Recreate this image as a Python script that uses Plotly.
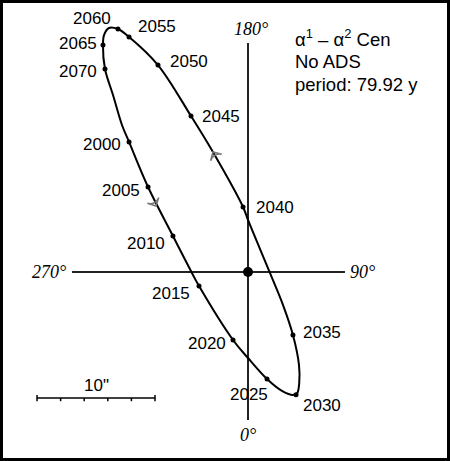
import plotly.graph_objects as go

# ---------------- data (arcseconds, relative to primary) ----------------
years = [2000, 2005, 2010, 2015, 2020, 2025, 2030, 2035,
         2040, 2045, 2050, 2055, 2060, 2065, 2070]
year_x = [-10.08, -8.47, -6.36, -4.15, -1.27, 1.61, 4.07, 3.81,
          -0.42, -4.83, -7.63, -10.08, -11.02, -12.29, -12.12]
year_y = [11.02, 7.20, 3.05, -1.19, -5.76, -9.07, -10.40, -5.34,
          5.51, 13.22, 17.54, 19.92, 20.59, 19.24, 17.20]

# apparent orbit (closed loop)
orbit_x = [-10.08, -8.47, -6.36, -4.75, -4.15, -1.27, 0.00, 1.61, 2.88, 3.73, 4.15,
           4.34, 4.32, 3.81, 2.97, 1.86, 0.00, -0.42, -2.97, -4.83, -7.63,
           -10.08, -11.02, -11.78, -12.20, -12.29, -12.12, -11.44, -10.68, -10.08]
orbit_y = [11.02, 7.20, 3.05, -0.08, -1.19, -5.76, -7.29, -9.07, -10.08, -10.42, -10.30,
           -9.41, -7.88, -5.34, -2.80, -0.08, 4.41, 5.51, 10.17, 13.22, 17.54,
           19.92, 20.59, 20.68, 20.08, 19.24, 17.20, 15.00, 12.46, 11.02]

# direction-of-motion arrows on the orbit
arrow_x = [-2.97, -7.80]
arrow_y = [10.17, 5.59]
arrow_angle = [-30, 153]

# position-angle cross (extents, arcsec)
cross_y_extent = [-12.54, 19.41]
cross_x_extent = [-14.92, 8.22]
cross_labels = ["180°", "270°", "90°", "0°"]

# scale bar: 10 arcsec, ticks every 2"
scale_x0 = -17.88
scale_len = 10
scale_y = -10.68
scale_label = '10"'

title_lines = ["α<sup>1</sup> – α<sup>2</sup> Cen", "No ADS", "period: 79.92 y"]

# label offsets (pixels: right, up) for each year
label_dx = [-27, -27, -27, -28, -26, -18, 26, 29, 32, 30, 31, 28, -26, -25, -27]
label_dy = [-3, -3, -7, -7, -4, -15, -11, 3, -1, 0, 4, 10, 11, 1, -2]

SANS = "Liberation Sans, Arial, sans-serif"
SERIF = "Liberation Serif, Times New Roman, serif"

fig = go.Figure()

# cross lines
fig.add_shape(type="line", x0=0, x1=0, y0=cross_y_extent[0], y1=cross_y_extent[1],
              line=dict(color="#222", width=2), layer="below")
fig.add_shape(type="line", x0=cross_x_extent[0], x1=cross_x_extent[1], y0=0, y1=0,
              line=dict(color="#222", width=2), layer="below")

# orbit
fig.add_trace(go.Scatter(x=orbit_x, y=orbit_y, mode="lines",
                         line=dict(color="black", width=2, shape="spline", smoothing=1.0),
                         hoverinfo="skip"))
# year dots
fig.add_trace(go.Scatter(x=year_x, y=year_y, mode="markers",
                         marker=dict(color="black", size=5), hoverinfo="skip"))
# primary star
fig.add_trace(go.Scatter(x=[0], y=[0], mode="markers",
                         marker=dict(color="black", size=10), hoverinfo="skip"))
# arrows
fig.add_trace(go.Scatter(x=arrow_x, y=arrow_y, mode="markers",
                         marker=dict(symbol="arrow-wide-open", size=9, angle=arrow_angle,
                                     color="#777", line=dict(width=1.5, color="#777")),
                         hoverinfo="skip"))

# scale bar
ticks = [scale_x0 + i * scale_len / 5 for i in range(6)]
fig.add_shape(type="line", x0=scale_x0, x1=scale_x0 + scale_len, y0=scale_y, y1=scale_y,
              line=dict(color="black", width=1.5))
for i, t in enumerate(ticks):
    big = i in (0, 5)
    fig.add_shape(type="line", x0=t, x1=t,
                  y0=scale_y - 0.27, y1=scale_y + (0.25 if big else 0),
                  line=dict(color="black", width=1.5))
fig.add_annotation(x=scale_x0 + scale_len / 2, y=scale_y, yshift=13, text=scale_label,
                   showarrow=False, font=dict(family=SANS, size=17, color="black"))

# year labels
for yr, x, y, dx, dy in zip(years, year_x, year_y, label_dx, label_dy):
    fig.add_annotation(x=x, y=y, xshift=dx, yshift=dy, text=str(yr), showarrow=False,
                       font=dict(family=SANS, size=17, color="black"))

# cross labels (italic serif)
serif_font = dict(family=SERIF, size=18, color="black", style="italic")
fig.add_annotation(x=0, y=cross_y_extent[1], xshift=3, yshift=14, text=cross_labels[0],
                   showarrow=False, font=serif_font)
fig.add_annotation(x=cross_x_extent[0], y=0, xshift=-4, xanchor="right", text=cross_labels[1],
                   showarrow=False, font=serif_font)
fig.add_annotation(x=cross_x_extent[1], y=0, xshift=3, xanchor="left", text=cross_labels[2],
                   showarrow=False, font=serif_font)
fig.add_annotation(x=0, y=cross_y_extent[0], yshift=-15, text=cross_labels[3],
                   showarrow=False, font=serif_font)

# title block
for i, line in enumerate(title_lines):
    fig.add_annotation(x=0.653, y=1 - (38.5 + 22.8 * i - 3) / 455, xref="paper", yref="paper",
                       xanchor="left", yanchor="middle", text=line, showarrow=False,
                       font=dict(family=SANS, size=18.5, color="black"))

fig.update_layout(
    width=450, height=461,
    margin=dict(l=3, r=3, t=3, b=3),
    paper_bgcolor="black", plot_bgcolor="white",
    showlegend=False,
    xaxis=dict(range=[-20.763, 16.864], visible=False, fixedrange=True),
    yaxis=dict(range=[-15.763, 22.797], visible=False, fixedrange=True),
)

fig.write_html("out.html", config={"displayModeBar": False},
               post_script="document.body.style.margin='0';document.body.style.overflow='hidden';")
